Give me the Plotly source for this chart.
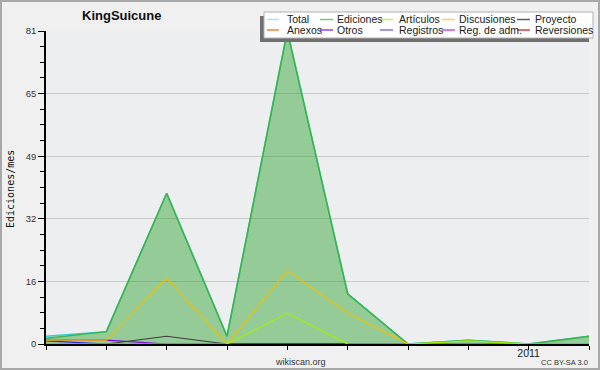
import plotly.graph_objects as go

# ---- data ----
months = list(range(10))
tick_labels = ["", "", "", "", "", "", "", "", "2011", ""]
y_tick_vals = [0, 16.2, 32.4, 48.6, 64.8, 81]
y_tick_text = ["0", "16", "32", "49", "65", "81"]

series_names = ["Total", "Ediciones", "Artículos", "Discusiones", "Proyecto",
                "Anexos", "Otros", "Registros", "Reg. de adm.", "Reversiones"]
total       = [2, 3.2, 39, 2, 81, 13, 0, 1, 0, 2]
ediciones   = [1.5, 3.2, 39, 2, 81, 13, 0, 1, 0, 2]
articulos   = [0, 0, 0, 0, 8, 0, 0, 0.8, 0, 0]
discusiones = [1, 1, 17, 0, 19, 8, 0, 0, 0, 0]
proyecto    = [0, 0, 2, 0, 0, 0, 0, 0, 0, 0]
otros       = [1, 1, 0, 0, 0, 0, 0, 0, 0, 0]
registros   = [0.8, 0, 0, 0, 0, 0, 0, 0, 0, 0]

plot_colors = {"Total": "#28d2d2", "Ediciones": "#3cb44b", "Artículos": "#a8f000",
               "Discusiones": "#f0c000", "Proyecto": "#404040", "Otros": "#7a00e8",
               "Registros": "#2020ff"}
legend_colors = ["#a8e4e0", "#78c87c", "#c8f050", "#f8d060", "#606060",
                 "#f08040", "#9040e0", "#7878f0", "#d050d8", "#e03838"]

FONT = "Liberation Sans, Arial"

# plot area in pixels
L, R, T, B = 46, 589, 31, 344
def px(x):
    return (x - L) / (R - L)
def py(y):
    return (B - y) / (B - T)

fig = go.Figure()

fig.add_trace(go.Scatter(x=months, y=total, mode="lines",
                         line=dict(color=plot_colors["Total"], width=1.5), showlegend=False))
fig.add_trace(go.Scatter(x=months, y=ediciones, mode="lines", fill="tozeroy",
                         fillcolor="rgba(40,160,40,0.45)",
                         line=dict(color=plot_colors["Ediciones"], width=1.5), showlegend=False))
for name, vals in [("Registros", registros), ("Otros", otros), ("Proyecto", proyecto),
                   ("Discusiones", discusiones), ("Artículos", articulos)]:
    fig.add_trace(go.Scatter(x=months, y=vals, mode="lines",
                             line=dict(color=plot_colors[name], width=1.2), showlegend=False))

shapes = []
annotations = []

# outer border
shapes.append(dict(type="rect", xref="paper", yref="paper",
                   x0=px(1), x1=px(599), y0=py(369), y1=py(1),
                   line=dict(color="#a8a8a8", width=2), fillcolor="rgba(0,0,0,0)", layer="above"))

# legend box with shadow
shapes.append(dict(type="rect", xref="paper", yref="paper",
                   x0=px(260), x1=px(589), y0=py(42), y1=py(16),
                   line=dict(width=0), fillcolor="#707070", layer="above"))
shapes.append(dict(type="rect", xref="paper", yref="paper",
                   x0=px(264), x1=px(593), y0=py(38), y1=py(12),
                   line=dict(color="#b0b0b0", width=1), fillcolor="#ffffff", layer="above"))

cols = [(267, 279, 285), (320, 333, 335), (380, 393, 397), (442, 455, 457), (517, 530, 533)]
rows = [19.5, 30]
for i, name in enumerate(series_names):
    r, c = divmod(i, 5)
    x0, x1, xt = cols[c]
    yy = rows[r]
    shapes.append(dict(type="line", xref="paper", yref="paper",
                       x0=px(x0), x1=px(x1), y0=py(yy), y1=py(yy),
                       line=dict(color=legend_colors[i], width=1.5), layer="above"))
    annotations.append(dict(text=name, xref="paper", yref="paper", x=px(xt), y=py(yy),
                            xanchor="left", yanchor="middle", showarrow=False,
                            font=dict(family=FONT, size=10.5, color="#202020")))

annotations += [
    dict(text="<b>KingSuicune</b>", xref="paper", yref="paper", x=px(121), y=py(15),
         xanchor="center", yanchor="middle", showarrow=False,
         font=dict(family=FONT, size=13, color="#111111")),
    dict(text="Ediciones/mes", xref="paper", yref="paper", x=px(10), y=py(189),
         xanchor="center", yanchor="middle", textangle=-90, showarrow=False,
         font=dict(family="DejaVu Sans Mono", size=10, color="#111111")),
    dict(text="wikiscan.org", xref="paper", yref="paper", x=px(300), y=py(362),
         xanchor="center", yanchor="middle", showarrow=False,
         font=dict(family=FONT, size=9, color="#333333")),
    dict(text="CC BY-SA 3.0", xref="paper", yref="paper", x=px(590), y=py(362),
         xanchor="right", yanchor="middle", showarrow=False,
         font=dict(family=FONT, size=7.5, color="#333333")),
]

fig.update_layout(
    width=600, height=370,
    margin=dict(l=L, r=600 - R, t=T, b=370 - B, pad=0),
    paper_bgcolor="#f0f0f0", plot_bgcolor="#edeef0",
    showlegend=False,
    shapes=shapes, annotations=annotations,
    xaxis=dict(range=[0, 9], tickvals=months, ticktext=tick_labels, automargin=False,
               showgrid=False, zeroline=False, showline=True, linecolor="#000000", linewidth=1.5,
               ticks="outside", ticklen=4, tickcolor="#000000", ticklabelstandoff=-5,
               tickfont=dict(family=FONT, size=10.5, color="#222222")),
    yaxis=dict(range=[0, 81], tickvals=y_tick_vals, ticktext=y_tick_text, automargin=False,
               showgrid=True, gridcolor="#c8c8c8", gridwidth=1, zeroline=False,
               showline=True, linecolor="#000000", linewidth=1.5,
               ticks="outside", ticklen=6, tickcolor="#000000",
               tickfont=dict(family=FONT, size=9.5, color="#333333"),
               minor=dict(tick0=0, dtick=4.05, ticks="outside", ticklen=4, tickcolor="#000000",
                          showgrid=False)),
)

fig.write_html("out.html", config={"displayModeBar": False},
               post_script="document.body.style.margin='0';")
